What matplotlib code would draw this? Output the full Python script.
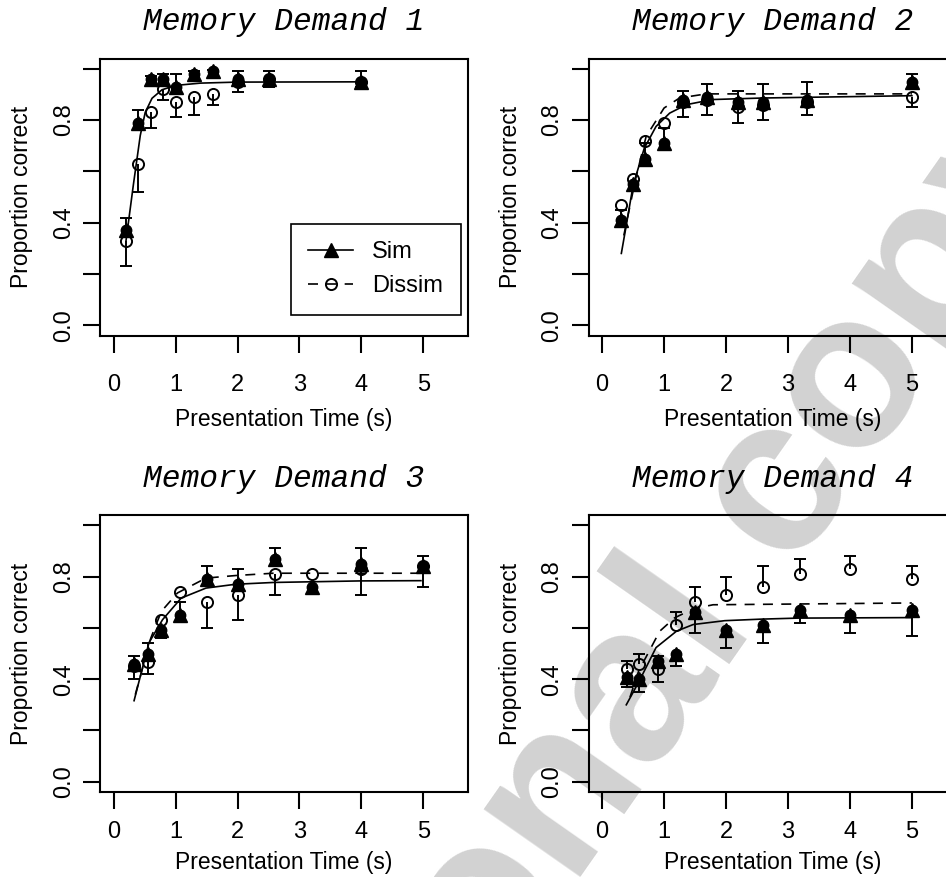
import numpy as np
import matplotlib
matplotlib.use("Agg")
import matplotlib.pyplot as plt
from matplotlib.lines import Line2D

plt.rcParams['font.family'] = ['Liberation Sans', 'DejaVu Sans']

nan = np.nan

# Memory Demand 1
t1 = [0.2, 0.4, 0.6, 0.8, 1.0, 1.3, 1.6, 2.0, 2.5, 4.0]
sim1 = [0.37, 0.79, 0.96, 0.96, 0.93, 0.98, 0.99, 0.96, 0.96, 0.95]
sim1_bar = [0.42, 0.84, 0.97, 0.98, 0.98, 0.99, 0.995, 0.99, 0.99, 0.99]
dis1 = [0.33, 0.63, 0.83, 0.92, 0.87, 0.89, 0.90, 0.95, 0.96, 0.95]
dis1_bar = [0.23, 0.52, 0.77, 0.88, 0.81, 0.82, 0.86, 0.91, 0.93, 0.93]
fit_sim1_x = [0.2, 0.32, 0.43, 0.51, 0.62, 0.78, 1.0, 1.4, 2.0, 4.0]
fit_sim1_y = [0.33, 0.55, 0.74, 0.83, 0.885, 0.918, 0.935, 0.944, 0.948, 0.949]

# Memory Demand 2
t2 = [0.3, 0.5, 0.7, 1.0, 1.3, 1.7, 2.2, 2.6, 3.3, 5.0]
sim2 = [0.41, 0.55, 0.65, 0.71, 0.88, 0.89, 0.87, 0.87, 0.88, 0.95]
sim2_bar = [0.45, nan, 0.71, 0.77, 0.915, 0.94, 0.915, 0.94, 0.95, 0.98]
dis2 = [0.47, 0.57, 0.72, 0.79, 0.87, 0.88, 0.85, 0.86, 0.87, 0.89]
dis2_bar = [nan, nan, nan, nan, 0.81, 0.82, 0.79, 0.80, 0.82, 0.85]
fit_sim2_x = [0.31, 0.39, 0.5, 0.68, 0.87, 1.09, 1.36, 1.78, 2.6, 5.0]
fit_sim2_y = [0.28, 0.39, 0.546, 0.69, 0.775, 0.827, 0.86, 0.88, 0.886, 0.895]
fit_dis2_x = [0.35, 0.54, 0.71, 1.0, 1.25, 1.68, 5.0]
fit_dis2_y = [0.35, 0.57, 0.736, 0.847, 0.886, 0.902, 0.902]

# Memory Demand 3
t3 = [0.33, 0.55, 0.77, 1.07, 1.5, 2.0, 2.6, 3.2, 4.0, 5.0]
sim3 = [0.46, 0.50, 0.59, 0.65, 0.79, 0.77, 0.87, 0.76, 0.85, 0.84]
sim3_bar = [0.49, 0.54, 0.56, 0.70, 0.84, 0.83, 0.91, nan, 0.91, 0.88]
dis3 = [0.45, 0.465, 0.63, 0.74, 0.70, 0.73, 0.81, 0.81, 0.83, 0.84]
dis3_bar = [0.40, 0.42, nan, nan, 0.60, 0.63, 0.73, nan, 0.73, 0.76]
fit_sim3_x = [0.33, 0.57, 0.79, 1.09, 1.49, 1.97, 2.58, 3.98, 4.96]
fit_sim3_y = [0.316, 0.542, 0.632, 0.716, 0.755, 0.770, 0.777, 0.783, 0.784]
fit_dis3_x = [0.35, 0.6, 0.77, 1.03, 1.49, 1.97, 2.58, 4.96]
fit_dis3_y = [0.34, 0.56, 0.664, 0.736, 0.794, 0.804, 0.813, 0.813]

# Memory Demand 4
t4 = [0.4, 0.6, 0.9, 1.2, 1.5, 2.0, 2.6, 3.2, 4.0, 5.0]
sim4 = [0.41, 0.40, 0.47, 0.50, 0.66, 0.59, 0.61, 0.67, 0.65, 0.67]
sim4_bar = [0.37, 0.35, 0.49, 0.45, 0.58, 0.52, 0.54, 0.62, 0.58, 0.57]
dis4 = [0.44, 0.46, 0.44, 0.61, 0.70, 0.73, 0.76, 0.81, 0.83, 0.79]
dis4_bar = [0.47, 0.50, 0.39, 0.66, 0.76, 0.80, 0.84, 0.87, 0.88, 0.84]
fit_sim4_x = [0.39, 0.6, 0.87, 1.2, 1.47, 1.98, 2.57, 3.16, 5.0]
fit_sim4_y = [0.30, 0.393, 0.523, 0.587, 0.613, 0.628, 0.634, 0.638, 0.64]
fit_dis4_x = [0.45, 0.59, 0.93, 1.17, 1.47, 1.79, 5.0]
fit_dis4_y = [0.33, 0.432, 0.587, 0.639, 0.674, 0.69, 0.697]

titles = ["Memory Demand 1", "Memory Demand 2", "Memory Demand 3", "Memory Demand 4"]
yticks = [0.0, 0.2, 0.4, 0.6, 0.8, 1.0]
ytick_labels = ["0.0", "", "0.4", "", "0.8", ""]
xticks = [0, 1, 2, 3, 4, 5]

DASH = (0, (6, 5))
LW = 1.2


def errbars(ax, t, y, bar):
    t, y, bar = np.asarray(t), np.asarray(y), np.asarray(bar)
    m = ~np.isnan(bar)
    ax.vlines(t[m], y[m], bar[m], color="k", lw=1.4, zorder=3)
    ax.plot(t[m], bar[m], ls="none", marker="_", ms=9, mew=1.4, color="k", zorder=3)


def panel(ax, title, t, sim, sim_bar, dis, dis_bar, fsx, fsy, fdx=None, fdy=None,
          xpad=16, xlab_y=-0.305):
    ax.set_facecolor("none")
    ax.plot(fsx, fsy, color="k", lw=LW, zorder=2)
    if fdx is not None:
        ax.plot(fdx, fdy, color="k", lw=LW, ls=DASH, zorder=2)
    errbars(ax, t, sim, sim_bar)
    errbars(ax, t, dis, dis_bar)
    ax.plot(t, dis, ls="none", marker="o", ms=8, mfc="none", mec="k", mew=1.4, zorder=4)
    ax.plot(t, sim, ls="none", marker="o", ms=7.5, color="k", zorder=5)
    ax.plot(t, sim, ls="none", marker="^", ms=9.5, color="k", zorder=5)

    ax.set_xlim(-0.22, 5.72)
    ax.set_ylim(-0.04, 1.04)
    ax.set_xticks(xticks)
    ax.set_yticks(yticks)
    ax.set_yticklabels(ytick_labels)
    plt.setp(ax.get_yticklabels(), rotation=90, va="center")
    ax.tick_params(length=12, width=1.5, direction="out", labelsize=17)
    ax.tick_params(axis="x", pad=xpad)
    ax.tick_params(axis="y", pad=6)
    for s in ax.spines.values():
        s.set_linewidth(1.5)

    ax.set_xlabel("Presentation Time (s)", fontsize=16.5)
    ax.xaxis.set_label_coords(0.5, xlab_y)
    ax.xaxis.label.set_va("center")
    ax.set_ylabel("Proportion correct", fontsize=16.5)
    ax.yaxis.set_label_coords(-0.212, 0.5)
    ax.yaxis.label.set_va("center")
    ax.text(0.5, 1 + 36.5 / 277, title, transform=ax.transAxes, ha="center", va="center",
            fontsize=22.5, family="Liberation Mono", style="italic")


fig = plt.figure(figsize=(9.46, 8.77), dpi=100)
fig.patch.set_facecolor("white")

# watermark across the page, behind the panels
fig.text(0.238, -0.579, "personal copy", rotation=55, rotation_mode="anchor",
         ha="left", va="baseline", fontsize=160, fontweight="bold", color="#d2d2d2", zorder=-1)

W, H = 946, 877
w, h = 368 / W, 277 / H
ax1 = fig.add_axes([100 / W, (H - 335.5) / H, w, h])
ax2 = fig.add_axes([588.5 / W, (H - 335.5) / H, w, h])
ax3 = fig.add_axes([100 / W, (H - 792) / H, w, h])
ax4 = fig.add_axes([588.5 / W, (H - 792) / H, w, h])

panel(ax1, titles[0], t1, sim1, sim1_bar, dis1, dis1_bar, fit_sim1_x, fit_sim1_y)
panel(ax2, titles[1], t2, sim2, sim2_bar, dis2, dis2_bar, fit_sim2_x, fit_sim2_y, fit_dis2_x, fit_dis2_y)
panel(ax3, titles[2], t3, sim3, sim3_bar, dis3, dis3_bar, fit_sim3_x, fit_sim3_y, fit_dis3_x, fit_dis3_y,
      xpad=9, xlab_y=-0.253)
panel(ax4, titles[3], t4, sim4, sim4_bar, dis4, dis4_bar, fit_sim4_x, fit_sim4_y, fit_dis4_x, fit_dis4_y,
      xpad=9, xlab_y=-0.253)

handles = [
    Line2D([], [], color="k", lw=LW, marker="^", ms=9.5),
    Line2D([], [], color="k", lw=LW, ls=DASH, marker="o", ms=8, mfc="none", mew=1.4),
]
leg = ax1.legend(handles, ["Sim", "Dissim"], loc="lower right", bbox_to_anchor=(0.98, 0.074),
                 borderaxespad=0, fontsize=17, handlelength=1.9, borderpad=0.75,
                 fancybox=False, edgecolor="k", framealpha=1)
leg.get_frame().set_linewidth(1.2)

fig.savefig("out.png", dpi=100)
